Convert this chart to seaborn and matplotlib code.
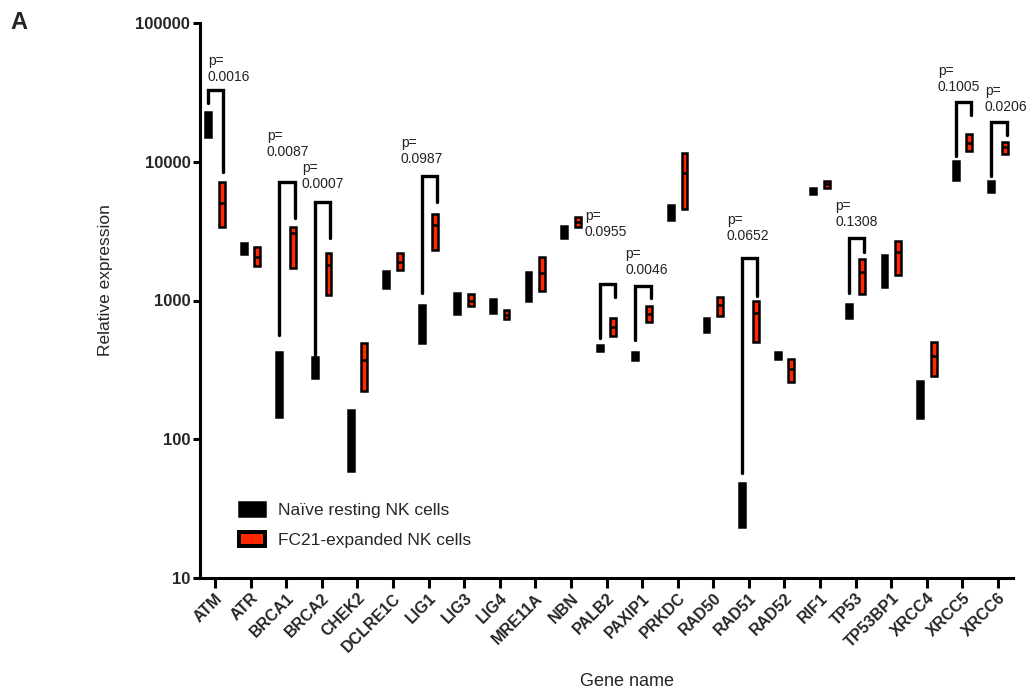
import numpy as np
import pandas as pd
import matplotlib
matplotlib.use('Agg')
import matplotlib.pyplot as plt
import seaborn as sns
from matplotlib.patches import Patch
from matplotlib.ticker import FixedLocator, NullLocator, FuncFormatter

#%% data (min / median / max per gene)
genes = ['ATM', 'ATR', 'BRCA1', 'BRCA2', 'CHEK2', 'DCLRE1C', 'LIG1', 'LIG3', 'LIG4',
         'MRE11A', 'NBN', 'PALB2', 'PAXIP1', 'PRKDC', 'RAD50', 'RAD51', 'RAD52', 'RIF1',
         'TP53', 'TP53BP1', 'XRCC4', 'XRCC5', 'XRCC6']

naive_lo = [15100, 2170, 145, 277, 59, 1230, 495, 800, 814, 993, 2830, 433, 373,
            3810, 594, 23.3, 379, 5870, 750, 1254, 143, 7410, 6070]
naive_hi = [22900, 2600, 426, 392, 163, 1635, 929, 1135, 1026, 1607, 3450, 479, 426,
            4890, 750, 48.4, 426, 6490, 945, 2132, 263, 10150, 7280]

fc21_lo = [3390, 1780, 1718, 1097, 223, 1662, 2317, 914, 737, 1173, 3395, 556, 701,
           4575, 774, 503, 259, 6490, 1116, 1530, 286, 11990, 11410]
fc21_med = [5040, 2060, 3070, 1806, 373, 1898, 3510, 993, 787, 1581, 3690, 645, 800,
            8320, 929, 814, 321, 6870, 1607, 2240, 399, 13680, 12800]
fc21_hi = [7160, 2430, 3395, 2204, 495, 2204, 4210, 1116, 855, 2062, 4008, 750, 914,
           11590, 1062, 993, 379, 7280, 1995, 2690, 503, 15890, 13900]

# p-value brackets: gene, bracket top, left leg end, right leg end, p text
p_genes = ['ATM', 'BRCA1', 'BRCA2', 'LIG1', 'PALB2', 'PAXIP1', 'RAD51', 'TP53', 'XRCC5', 'XRCC6']
p_top = [33000, 7160, 5140, 7910, 1318, 1274, 2028, 2826, 27000, 19400]
p_left = [26600, 565, 405, 1135, 537, 520, 57, 1135, 11030, 7910]
p_right = [8460, 3940, 2826, 5140, 1062, 1045, 1080, 2240, 21800, 15630]
p_vals = ['0.0016', '0.0087', '0.0007', '0.0987', '0.0955', '0.0046', '0.0652', '0.1308', '0.1005', '0.0206']
# label anchor (x in category units, y in data units)
p_text_x = [-0.20, 1.46, 2.44, 5.22, 10.39, 11.52, 14.38, 17.42, 20.31, 21.63]
p_text_y = [46700, 13460, 7910, 11990, 3565, 1898, 3336, 4210, 39600, 28400]

#%% plotting
sns.set_style('ticks')
plt.rcParams['font.family'] = ['Liberation Sans', 'DejaVu Sans']

red = '#ff2600'
barW = 0.165
offs = 0.19
lw = 1.8

fig = plt.figure(figsize=(10.29, 6.97), dpi=100)
ax = fig.add_axes([200/1029, 119/697, 813/1029, 555/697])
ax.set_yscale('log')

xpos = np.arange(len(genes))
nl = np.array(naive_lo); nh = np.array(naive_hi)
fl = np.array(fc21_lo); fm = np.array(fc21_med); fh = np.array(fc21_hi)

ax.bar(xpos - offs, nh - nl, bottom=nl, width=barW, color='black',
       edgecolor='black', linewidth=lw, zorder=3)
ax.bar(xpos + offs, fh - fl, bottom=fl, width=barW, color=red,
       edgecolor='black', linewidth=lw, zorder=3)
ax.hlines(fm, xpos + offs - barW/2, xpos + offs + barW/2, color='black',
          linewidth=lw, zorder=4)

for g, top, lft, rgt, txt, tx, ty in zip(p_genes, p_top, p_left, p_right, p_vals, p_text_x, p_text_y):
    i = genes.index(g)
    xl = i - offs
    xr = i + offs + 0.05
    ax.plot([xl, xl, xr, xr], [lft, top, top, rgt], color='black', lw=2.4,
            solid_joinstyle='miter', zorder=3)
    ax.text(tx, ty, 'p=\n' + txt, fontsize=10, va='center', ha='left',
            linespacing=1.15, color='#222222')

ax.set_ylim(10, 100000)
ax.set_xlim(-0.42, 22.42)
ax.yaxis.set_major_locator(FixedLocator([10, 100, 1000, 10000, 100000]))
ax.yaxis.set_minor_locator(NullLocator())
ax.yaxis.set_major_formatter(FuncFormatter(lambda v, p: '%d' % v))
ax.set_xticks(xpos)
ax.set_xticklabels(genes, rotation=45, ha='right', rotation_mode='anchor',
                   fontweight='bold', fontsize=11.5)
for lab in ax.get_yticklabels():
    lab.set_fontweight('bold')
    lab.set_fontsize(12)
ax.tick_params(axis='both', width=2.2, length=5, color='black', pad=2)
ax.tick_params(axis='x', length=7)
sns.despine(ax=ax)
for s in ['left', 'bottom']:
    ax.spines[s].set_linewidth(2.2)
    ax.spines[s].set_color('black')

ax.set_ylabel('Relative expression', fontsize=12.5)
ax.yaxis.set_label_coords(-0.107, 0.537)
ax.set_xlabel('Gene name', fontsize=13)
ax.xaxis.set_label_coords(0.525, -0.172)

handles = [Patch(facecolor='black', edgecolor='black', linewidth=lw),
           Patch(facecolor=red, edgecolor='black', linewidth=lw * 1.6)]
ax.legend(handles, ['Naïve resting NK cells', 'FC21-expanded NK cells'],
          frameon=False, fontsize=12.5, handlelength=1.5, handleheight=0.85,
          handletextpad=0.75, labelspacing=0.8, loc='upper left',
          borderpad=0, borderaxespad=0, bbox_to_anchor=(0.048, 0.137))

fig.text(10/1029, 1 - 29/697, 'A', fontsize=17, fontweight='bold', va='baseline')

fig.savefig('out.png', dpi=100)
